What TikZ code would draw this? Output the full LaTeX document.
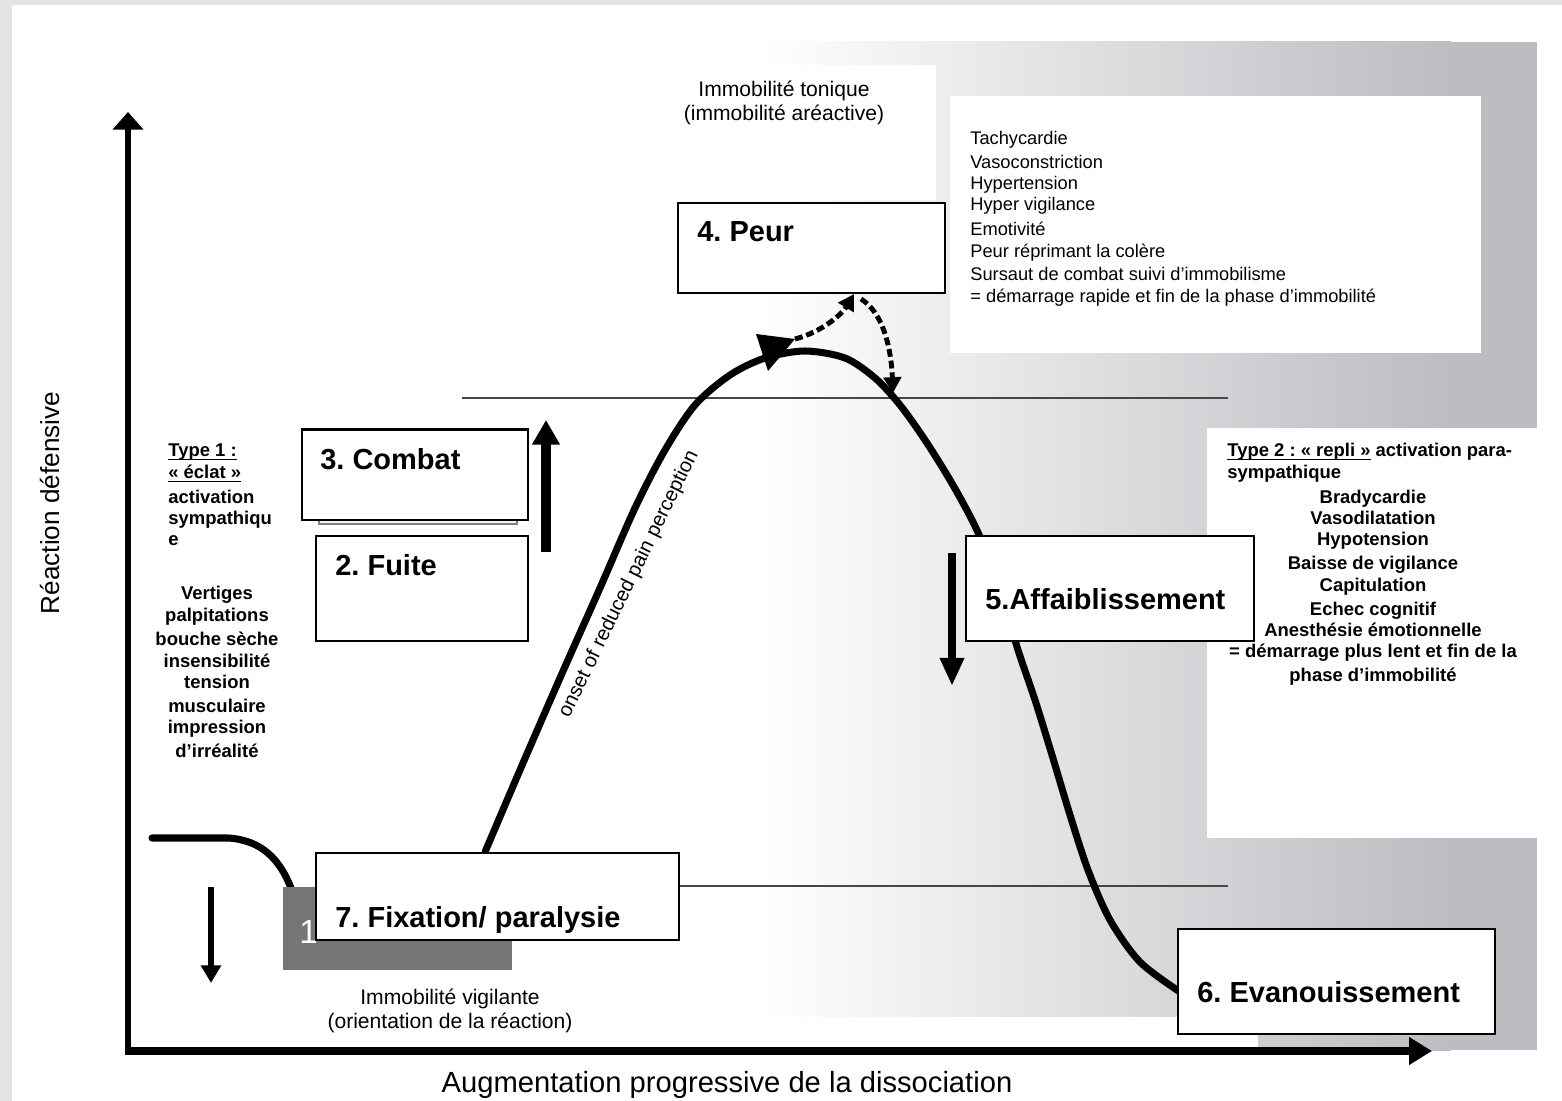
\documentclass[tikz,border=0pt]{standalone}
\usepackage{fontspec}
\setmainfont{Liberation Sans}
\usetikzlibrary{arrows.meta}
\definecolor{pagegray}{RGB}{229,229,229}
\definecolor{shadegray}{RGB}{188,188,193}
\definecolor{rectgray}{RGB}{118,118,120}
\definecolor{hlinegray}{RGB}{70,70,70}
\newcommand{\myul}[1]{\underline{\smash{#1}}}
\frenchspacing
\begin{document}
\frenchspacing
\begin{tikzpicture}[x=0.02cm, y=-0.02cm,
  box/.style={draw=black, line width=1.1pt, fill=white, inner sep=0pt, anchor=north west},
  boxlabel/.style={font=\bfseries\fontsize{16.5}{19}\selectfont, anchor=base west, inner sep=0pt},
  note/.style={font=\fontsize{10.4}{12}\selectfont, anchor=base west, inner sep=0pt},
  bnote/.style={font=\bfseries\fontsize{10.5}{12}\selectfont, inner sep=0pt},
  medtext/.style={font=\fontsize{12}{14}\selectfont, anchor=base, inner sep=0pt},
  curve/.style={line width=4pt, line cap=round, line join=round},
  thinline/.style={draw=hlinegray, line width=1.1pt},
  dasharrow/.style={line width=2.8pt, dash pattern=on 4.5pt off 2.2pt, -{Triangle[width=10pt,length=9pt]}},
]
\useasboundingbox (0,0) rectangle (1562,1101);
% page background
\fill[pagegray] (0,0) rectangle (1562,1101);
\fill[white] (12,5) rectangle (1562,1101);
% gradient panel
\shade[left color=white, right color=shadegray] (760,42) rectangle (1451,1050);
\fill[shadegray] (1450,42) rectangle (1537,1050);
% white overlays
\fill[white] (660,65) rectangle (936,200);
\fill[white] (950,96) rectangle (1481,353);
\fill[white] (1207,428) rectangle (1562,838);
\fill[white] (600,1017) rectangle (1258,1050);
% thin horizontal levels
\draw[thinline] (462,398) -- (1228,398);
\draw[thinline] (678,886) -- (1228,886);
% main curve
\draw[curve] plot[smooth, tension=0.5] coordinates {(485,852) (520,770) (560,678) (600,588) (635,508) (665,450) (695,405) (730,375) (765,358) (805,351) (845,358) (875,378) (900,405) (925,440) (950,480) (972,520) (990,560) (1005,605) (1018,650) (1035,700) (1052,755) (1070,815) (1088,870) (1110,920) (1140,962) (1180,992)};
\draw[curve] (152,838) -- (228,838) .. controls (262,840) and (280,860) .. (291,888);
\fill (756,334) -- (795,339) -- (768,371) -- cycle;
% arrows
\draw[line width=3.4pt, -{Triangle[width=17pt,length=10pt]}] (128,1055) -- (128,112);
\draw[line width=4.2pt, -{Triangle[width=15pt,length=13pt]}] (126,1051) -- (1432,1051);
\draw[line width=5.7pt, -{Triangle[width=15pt,length=14pt]}] (546,552) -- (546,420);
\draw[line width=4.5pt, -{Triangle[width=13pt,length=16pt]}] (952,553) -- (952,686);
\draw[line width=3.2pt, -{Triangle[width=11pt,length=10pt]}] (211,887) -- (211,983);
% gray label under 7
\fill[rectgray] (283,887) rectangle (512,970);
\node[font=\fontsize{19}{20}\selectfont, text=white, anchor=base west, inner sep=0pt] (one) at (299,943) {1};
% boxes
\draw[gray, fill=white!92!gray, line width=0.6pt] (319,517) rectangle (517,524);
\node[box, minimum width=267*0.02cm, minimum height=90*0.02cm] (peur) at (677,202) {};
\node[box, minimum width=226*0.02cm, minimum height=90*0.02cm] (combat) at (301,429) {};
\draw[line width=1.6pt] (combat.north west) -- (combat.north east);
\node[box, minimum width=212*0.02cm, minimum height=105*0.02cm] (fuite) at (315,535) {};
\node[box, minimum width=288*0.02cm, minimum height=105*0.02cm] (aff) at (965,535) {};
\node[box, minimum width=317*0.02cm, minimum height=105*0.02cm] (evan) at (1177,928) {};
\node[box, minimum width=363*0.02cm, minimum height=87*0.02cm] (fix) at (315,852) {};
% dashed arrows
\coordinate (d1s) at (795,339);
\coordinate (d1e) at (854,294);
\coordinate (d2s) at (861,299);
\coordinate (d2e) at (893,393);
\draw[dasharrow] (d1s) .. controls (822,332) and (842,314) .. (d1e);
\draw[dasharrow] (d2s) .. controls (882,312) and (891,345) .. (d2e);
% box labels
\node[boxlabel] (tpeur) at (697,242) {4. Peur};
\node[boxlabel] (tcombat) at (320,469) {3. Combat};
\node[boxlabel] (tfuite) at (335,575) {2. Fuite};
\node[boxlabel] (taff) at (985,609) {5.Affaiblissement};
\node[boxlabel] (tevan) at (1197,1002) {6. Evanouissement};
\node[boxlabel] (tfix) at (335,927) {7. Fixation/ paralysie};
% axis labels
\node[font=\fontsize{16.6}{18}\selectfont, anchor=base, inner sep=0pt] (xlab) at (727,1092) {Augmentation progressive de la dissociation};
\node[font=\fontsize{14.9}{16}\selectfont, rotate=90, inner sep=0pt] (ylab) at (50,503) {Réaction défensive};
% immobility captions
\node[medtext] (it1) at (784,97) {Immobilité tonique};
\node[medtext] (it2) at (784,121) {(immobilité aréactive)};
\node[medtext] (iv1) at (450,1004) {Immobilité vigilante};
\node[medtext] (iv2) at (450,1028) {(orientation de la réaction)};
\node[font=\fontsize{11.5}{14}\selectfont, rotate=64, inner sep=0pt] (onset) at (629,584) {onset of reduced pain perception};
% top-right list
\foreach \yy/\tt [count=\i] in {145/Tachycardie, 169/Vasoconstriction, 190/Hypertension, 211/Hyper vigilance, 236/Emotivité, 258/Peur réprimant la colère, 281/Sursaut de combat suivi d’immobilisme, 303/= démarrage rapide et fin de la phase d’immobilité}
  \node[note] (tr\i) at (970,\yy) {\tt};
% type 1 block
\node[bnote, anchor=base west] (ta1) at (168,457) {\myul{Type 1 :}};
\node[bnote, anchor=base west] (ta2) at (168,479) {\myul{« éclat »}};
\node[bnote, anchor=base west] (ta3) at (168,503) {activation};
\node[bnote, anchor=base west] (ta4) at (168,524) {sympathiqu};
\node[bnote, anchor=base west] (ta5) at (168,545) {e};
\foreach \yy/\tt [count=\i] in {599/Vertiges, 621/palpitations, 645/bouche sèche, 667/insensibilité, 688/tension, 712/musculaire, 733/impression, 757/d’irréalité}
  \node[bnote, anchor=base] (tb\i) at (217,\yy) {\tt};
% type 2 block
\node[bnote, anchor=base west] (tc1) at (1227,457) {\myul{Type 2 : « repli »} activation para-};
\node[bnote, anchor=base west] (tc2) at (1227,479) {sympathique};
\foreach \yy/\tt [count=\i] in {503/Bradycardie, 524/Vasodilatation, 545/Hypotension, 569/Baisse de vigilance, 591/Capitulation, 615/Echec cognitif, 636/Anesthésie émotionnelle, 657/= démarrage plus lent et fin de la, 681/phase d’immobilité}
  \node[bnote, anchor=base] (td\i) at (1373,\yy) {\tt};
\end{tikzpicture}
\end{document}
